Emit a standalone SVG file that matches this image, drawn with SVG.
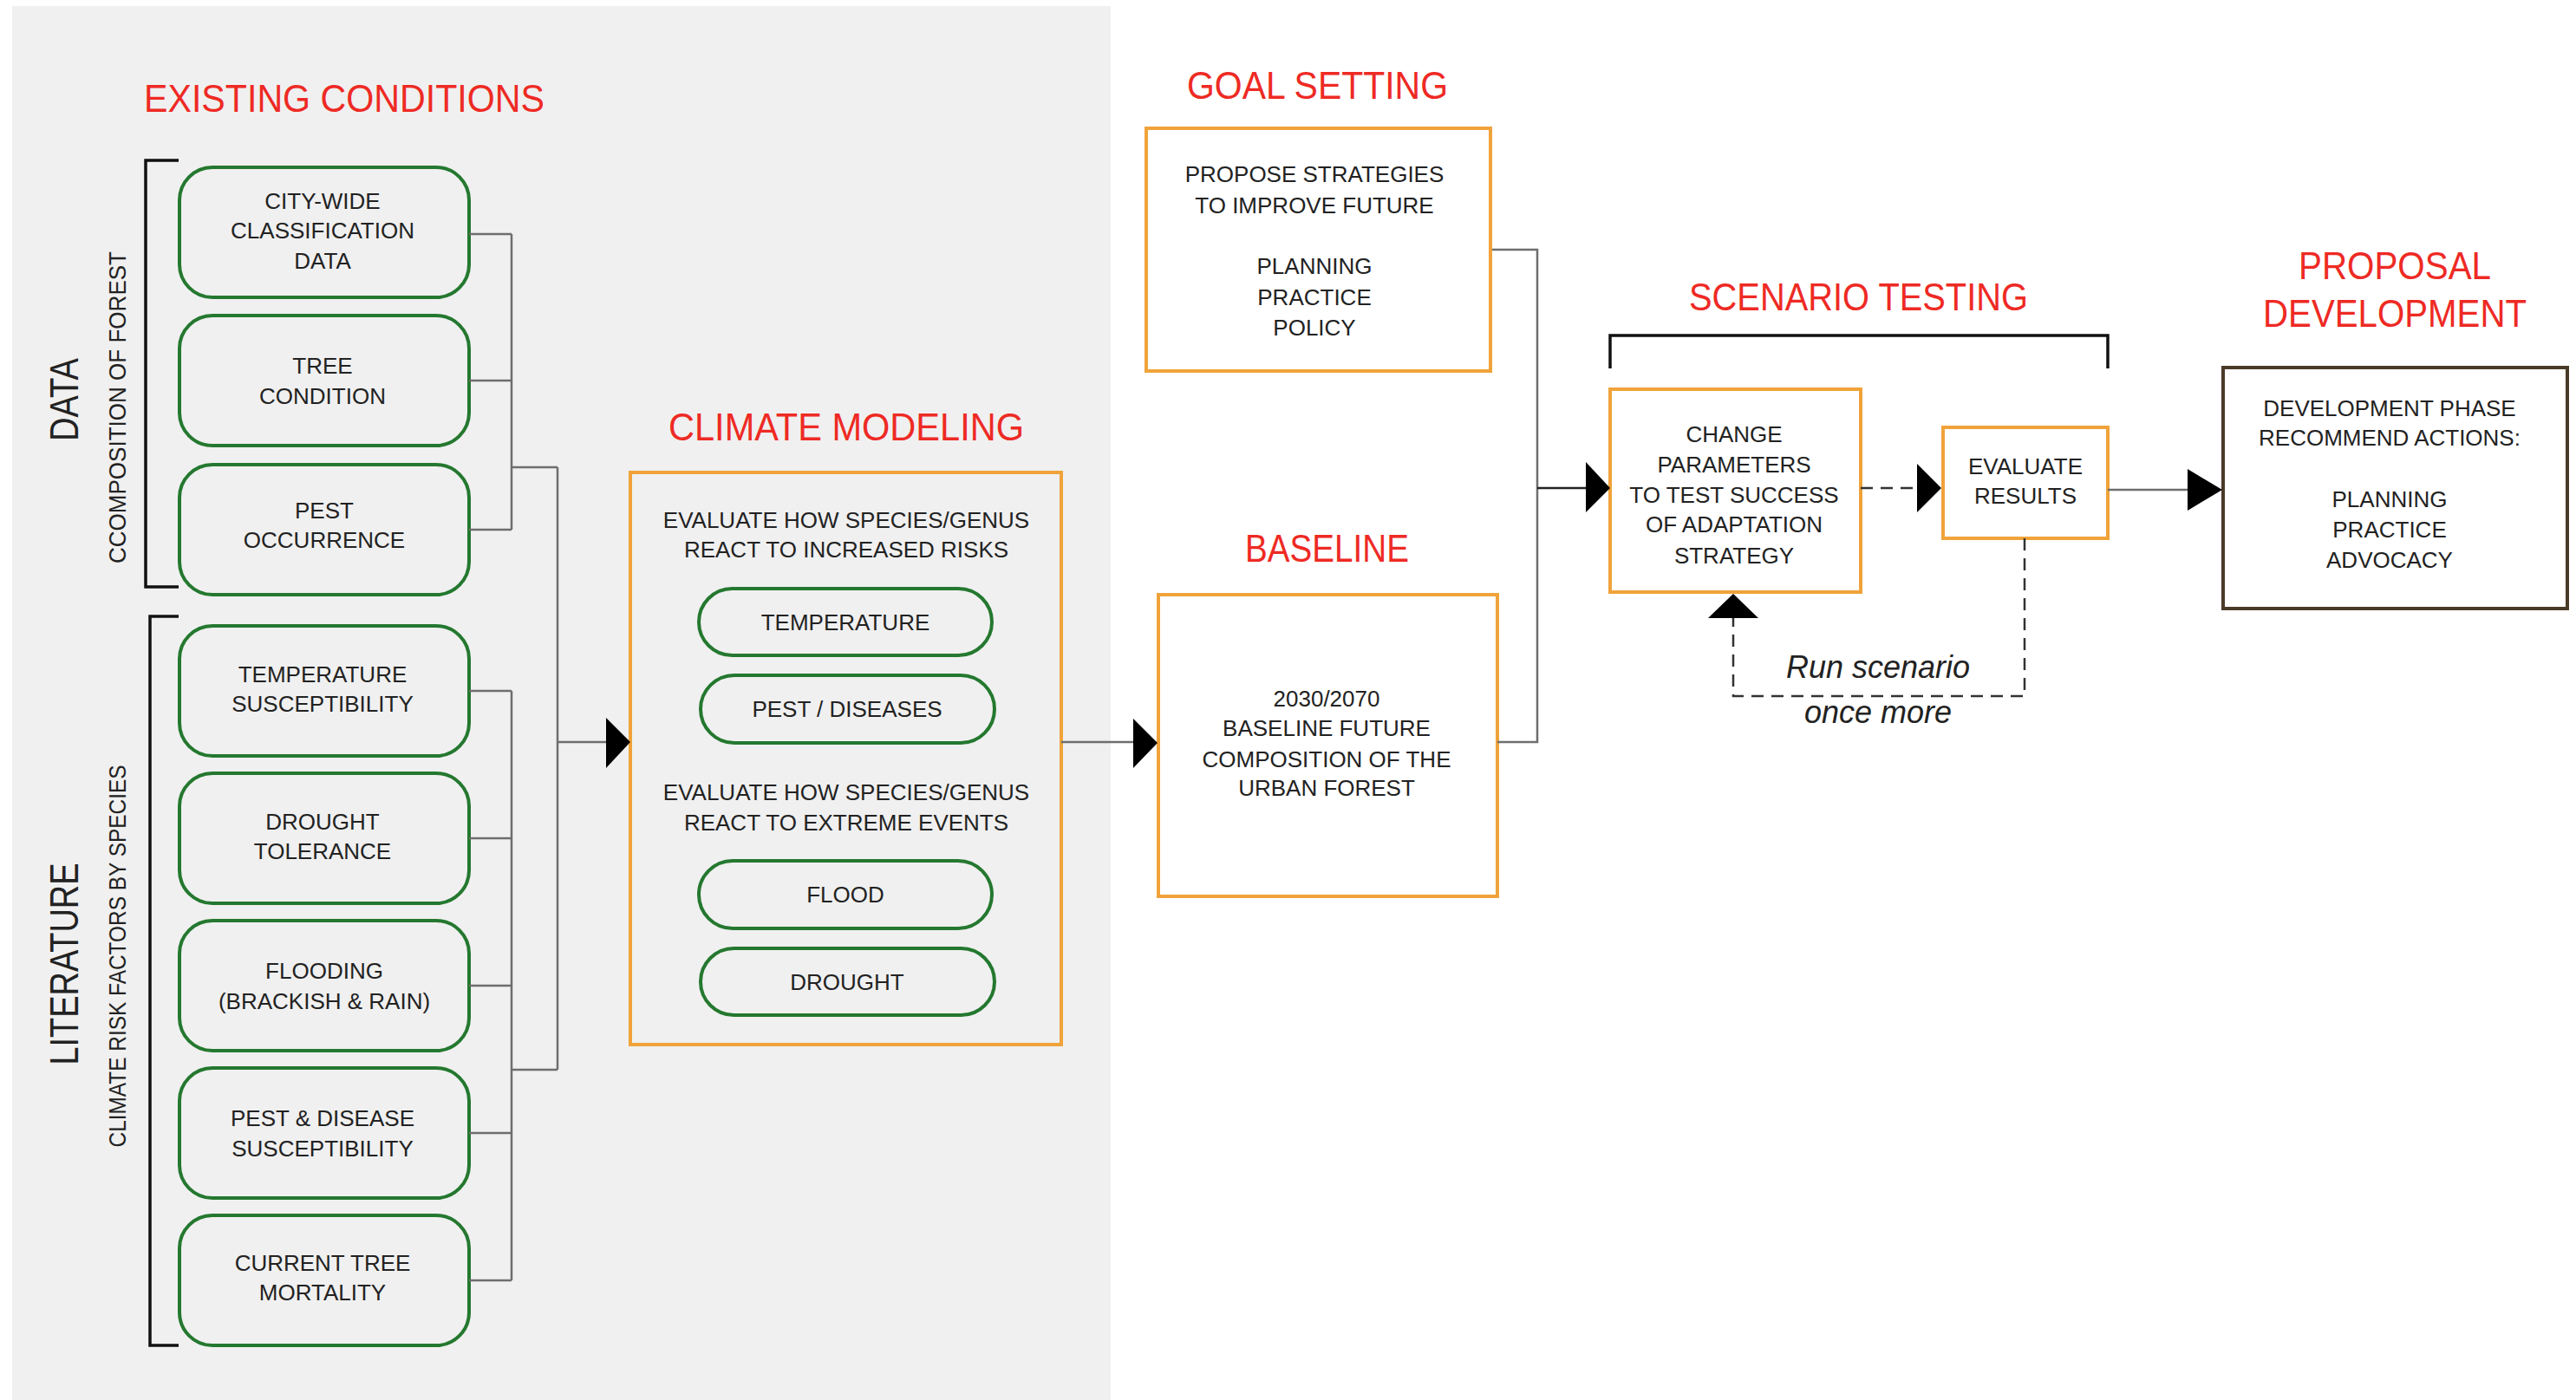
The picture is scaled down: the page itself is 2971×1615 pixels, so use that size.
<svg xmlns="http://www.w3.org/2000/svg" width="2971" height="1615" viewBox="0 0 2971 1615">
<style>
.title{font-family:"Liberation Sans",Arial,sans-serif;font-size:44px;fill:#ee2a24;}
.t{font-family:"Liberation Sans",Arial,sans-serif;font-size:26px;fill:#222;text-anchor:middle;}
.side{font-family:"Liberation Sans",Arial,sans-serif;fill:#222;}
.green{fill:none;stroke:#24782f;stroke-width:4;}
.orange{fill:#fff;stroke:#f0a33a;stroke-width:4;}
.pill{fill:none;stroke:#24782f;stroke-width:4;}
.ln{fill:none;stroke:#6e6e6e;stroke-width:2.5;}
.dk{fill:none;stroke:#222;stroke-width:2.5;}
.dash{fill:none;stroke:#333;stroke-width:2.5;stroke-dasharray:14 9;}
.br{fill:none;stroke:#111;stroke-width:3.5;}
.ah{fill:#000;}
.it{font-family:"Liberation Sans",Arial,sans-serif;font-style:italic;font-size:36px;fill:#222;text-anchor:middle;}
</style>
<rect x="0" y="0" width="2971" height="1615" fill="#fff"/>
<rect x="14" y="7" width="1267" height="1608" fill="#f0f0f0"/>

<g id="titles">
<text class="title" x="166" y="129" textLength="462" lengthAdjust="spacingAndGlyphs">EXISTING CONDITIONS</text>
<text class="title" x="771" y="508" textLength="410" lengthAdjust="spacingAndGlyphs">CLIMATE MODELING</text>
<text class="title" x="1369" y="114" textLength="301" lengthAdjust="spacingAndGlyphs">GOAL SETTING</text>
<text class="title" x="1436" y="648" textLength="189" lengthAdjust="spacingAndGlyphs">BASELINE</text>
<text class="title" x="1948" y="358" textLength="391" lengthAdjust="spacingAndGlyphs">SCENARIO TESTING</text>
<text class="title" x="2651" y="322" textLength="222" lengthAdjust="spacingAndGlyphs">PROPOSAL</text>
<text class="title" x="2610" y="377" textLength="304" lengthAdjust="spacingAndGlyphs">DEVELOPMENT</text>
</g>

<g id="data-group">
<path class="br" d="M206,185 H168 V677 H206"/>
<text class="side" font-size="46" transform="translate(90,461) rotate(-90)" text-anchor="middle" textLength="96" lengthAdjust="spacingAndGlyphs">DATA</text>
<text class="side" font-size="28" transform="translate(145,470) rotate(-90)" text-anchor="middle" textLength="360" lengthAdjust="spacingAndGlyphs">CCOMPOSITION OF FOREST</text>
</g>
<g id="literature-group">
<path class="br" d="M206,711 H173 V1552 H206"/>
<text class="side" font-size="46" transform="translate(90,1112) rotate(-90)" text-anchor="middle" textLength="233" lengthAdjust="spacingAndGlyphs">LITERATURE</text>
<text class="side" font-size="28" transform="translate(145,1103) rotate(-90)" text-anchor="middle" textLength="441" lengthAdjust="spacingAndGlyphs">CLIMATE RISK FACTORS BY SPECIES</text>
</g>

<g id="city-wide"><rect class="green" x="207" y="193" width="334" height="150" rx="38"/>
<text class="t" x="372" y="241">CITY-WIDE</text><text class="t" x="372" y="275">CLASSIFICATION</text><text class="t" x="372" y="310">DATA</text></g>
<g id="tree-condition"><rect class="green" x="207" y="364" width="334" height="150" rx="38"/>
<text class="t" x="372" y="431">TREE</text><text class="t" x="372" y="466">CONDITION</text></g>
<g id="pest-occurrence"><rect class="green" x="207" y="536" width="334" height="150" rx="38"/>
<text class="t" x="374" y="598">PEST</text><text class="t" x="374" y="632">OCCURRENCE</text></g>
<g id="temperature-susceptibility"><rect class="green" x="207" y="722" width="334" height="150" rx="38"/>
<text class="t" x="372" y="787">TEMPERATURE</text><text class="t" x="372" y="821">SUSCEPTIBILITY</text></g>
<g id="drought-tolerance"><rect class="green" x="207" y="892" width="334" height="150" rx="38"/>
<text class="t" x="372" y="957">DROUGHT</text><text class="t" x="372" y="991">TOLERANCE</text></g>
<g id="flooding"><rect class="green" x="207" y="1062" width="334" height="150" rx="38"/>
<text class="t" x="374" y="1129">FLOODING</text><text class="t" x="374" y="1164">(BRACKISH &amp; RAIN)</text></g>
<g id="pest-disease"><rect class="green" x="207" y="1232" width="334" height="150" rx="38"/>
<text class="t" x="372" y="1299">PEST &amp; DISEASE</text><text class="t" x="372" y="1334">SUSCEPTIBILITY</text></g>
<g id="tree-mortality"><rect class="green" x="207" y="1402" width="334" height="150" rx="38"/>
<text class="t" x="372" y="1466">CURRENT TREE</text><text class="t" x="372" y="1500">MORTALITY</text></g>

<g id="climate-modeling">
<rect x="727" y="545" width="497" height="660" fill="none" stroke="#f0a33a" stroke-width="4"/>
<text class="t" x="976" y="609">EVALUATE HOW SPECIES/GENUS</text>
<text class="t" x="976" y="643">REACT TO INCREASED RISKS</text>
<rect class="pill" x="806" y="679" width="338" height="77" rx="38.5"/>
<text class="t" x="975" y="727">TEMPERATURE</text>
<rect class="pill" x="808" y="779" width="339" height="78" rx="39"/>
<text class="t" x="977" y="827">PEST / DISEASES</text>
<text class="t" x="976" y="923">EVALUATE HOW SPECIES/GENUS</text>
<text class="t" x="976" y="958">REACT TO EXTREME EVENTS</text>
<rect class="pill" x="806" y="993" width="338" height="78" rx="39"/>
<text class="t" x="975" y="1041">FLOOD</text>
<rect class="pill" x="808" y="1094" width="339" height="77" rx="38.5"/>
<text class="t" x="977" y="1142">DROUGHT</text>
</g>

<g id="goal-setting">
<rect class="orange" x="1322" y="148" width="397" height="280"/>
<text class="t" x="1516" y="210">PROPOSE STRATEGIES</text>
<text class="t" x="1516" y="246">TO IMPROVE FUTURE</text>
<text class="t" x="1516" y="316">PLANNING</text>
<text class="t" x="1516" y="352">PRACTICE</text>
<text class="t" x="1516" y="387">POLICY</text>
</g>

<g id="baseline">
<rect class="orange" x="1336" y="686" width="391" height="348"/>
<text class="t" x="1530" y="815">2030/2070</text>
<text class="t" x="1530" y="849">BASELINE FUTURE</text>
<text class="t" x="1530" y="885">COMPOSITION OF THE</text>
<text class="t" x="1530" y="918">URBAN FOREST</text>
</g>

<g id="change-parameters">
<rect class="orange" x="1857" y="449" width="289" height="234"/>
<text class="t" x="2000" y="510">CHANGE</text>
<text class="t" x="2000" y="545">PARAMETERS</text>
<text class="t" x="2000" y="580">TO TEST SUCCESS</text>
<text class="t" x="2000" y="614">OF ADAPTATION</text>
<text class="t" x="2000" y="650">STRATEGY</text>
</g>

<g id="evaluate-results">
<rect class="orange" x="2241" y="493" width="190" height="128"/>
<text class="t" x="2336" y="547">EVALUATE</text>
<text class="t" x="2336" y="581">RESULTS</text>
</g>

<g id="proposal-development">
<rect x="2564" y="424" width="397" height="278" fill="#fff" stroke="#4a3a28" stroke-width="4"/>
<text class="t" x="2756" y="480">DEVELOPMENT PHASE</text>
<text class="t" x="2756" y="514">RECOMMEND ACTIONS:</text>
<text class="t" x="2756" y="585">PLANNING</text>
<text class="t" x="2756" y="620">PRACTICE</text>
<text class="t" x="2756" y="655">ADVOCACY</text>
</g>

<g id="connectors">
<path class="ln" d="M541,270 H590 M541,439 H590 M541,611 H590 M590,270 V611 M590,539 H643"/>
<path class="ln" d="M541,797 H590 M541,967 H590 M541,1137 H590 M541,1307 H590 M541,1477 H590 M590,797 V1477 M590,1234 H643"/>
<path class="ln" d="M643,539 V1234 M643,856 H700"/>
<polygon class="ah" points="699,828 727,856 699,886"/>
<path class="ln" d="M1224,856 H1308"/>
<polygon class="ah" points="1307,829 1335,857 1307,886"/>
<path class="ln" d="M1721,288 H1773 V856 H1727" stroke="#888"/>
<path class="dk" d="M1773,563 H1830"/>
<polygon class="ah" points="1829,533 1857,563 1829,591"/>
<path class="dash" d="M2146,563 H2211"/>
<polygon class="ah" points="2211,535 2239,563 2211,591"/>
<path class="ln" d="M2431,565 H2524" stroke="#888"/>
<polygon class="ah" points="2523,541 2563,565 2523,589"/>
<path class="dash" d="M2335,621 V803 H1999 V713"/>
<polygon class="ah" points="1970,713 1999,685 2028,713"/>
<path class="br" d="M1857,425 V387 H2431 V425" stroke-width="3"/>
</g>

<g id="loop-label">
<text class="it" x="2166" y="782">Run scenario</text>
<text class="it" x="2166" y="834">once more</text>
</g>
</svg>
